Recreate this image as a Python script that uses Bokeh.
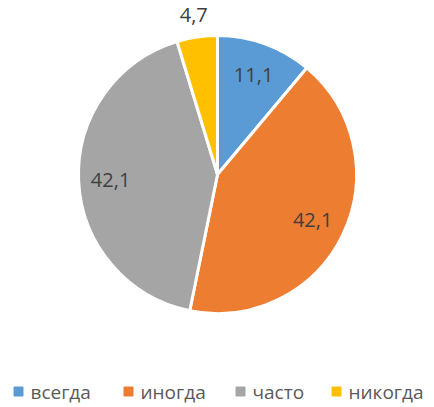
import numpy as np
from bokeh.plotting import figure
from bokeh.models import Range1d, ColumnDataSource
from bokeh.core.properties import value
from bokeh.embed import file_html
from bokeh.resources import INLINE

categories = ["всегда", "иногда", "часто", "никогда"]
values = [11.1, 42.1, 42.1, 4.7]
labels = ["11,1", "42,1", "42,1", "4,7"]
colors = ["#5B9BD5", "#ED7D31", "#A5A5A5", "#FFC000"]

W, H = 434, 407
cx, cy, R = 217, H - 174, 139

p = figure(width=W, height=H, output_backend="svg", toolbar_location=None,
           x_range=Range1d(0, W), y_range=Range1d(0, H), min_border=0)
p.axis.visible = False
p.grid.visible = False
p.outline_line_color = None
p.background_fill_color = "white"

v = np.array(values)
frac = v / v.sum()
ends = np.pi / 2 - 2 * np.pi * np.cumsum(frac)
starts = np.concatenate([[np.pi / 2], ends[:-1]])
mids = (starts + ends) / 2

src = ColumnDataSource(dict(start=ends, end=starts, color=colors))
p.wedge(x=cx, y=cy, radius=R, start_angle="start", end_angle="end",
        fill_color="color", line_color="white", line_width=3, source=src)

lr = np.array([0.76, 0.76, 0.77, 1.16]) * R
lx = cx + lr * np.cos(mids)
ly = cy + lr * np.sin(mids)
p.text(x=lx, y=ly, text=labels, text_align="center", text_baseline="middle",
       text_font=value("Open Sans"), text_font_size="20px", text_color="#404040")

# legend
leg_x = [18, 128, 240, 336]
leg_y = H - 391
p.scatter(x=leg_x, y=[leg_y] * 4, marker="square", size=9, color=colors)
p.text(x=[x + 12 for x in leg_x], y=[leg_y] * 4, text=categories,
       text_align="left", text_baseline="middle",
       text_font=value("Open Sans"), text_font_size="19px", text_color="#595959")

open("out.html", "w").write(file_html(p, INLINE))
